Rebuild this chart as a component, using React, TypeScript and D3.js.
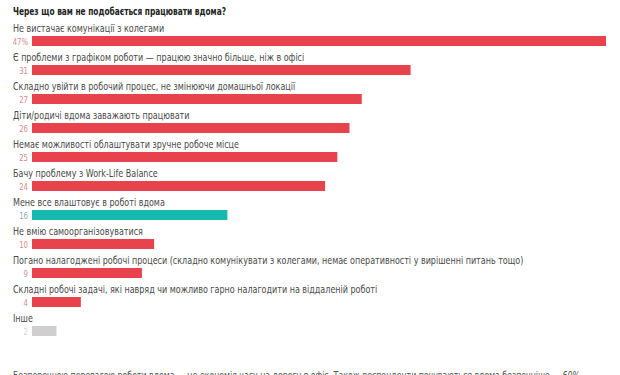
import React from "react";
import * as d3 from "d3";

const categories = [
  "Не вистачає комунікації з колегами",
  "Є проблеми з графіком роботи — працюю значно більше, ніж в офісі",
  "Складно увійти в робочий процес, не змінюючи домашньої локації",
  "Діти/родичі вдома заважають працювати",
  "Немає можливості облаштувати зручне робоче місце",
  "Бачу проблему з Work-Life Balance",
  "Мене все влаштовує в роботі вдома",
  "Не вмію самоорганізовуватися",
  "Погано налагоджені робочі процеси (складно комунікувати з колегами, немає оперативності у вирішенні питань тощо)",
  "Складні робочі задачі, які навряд чи можливо гарно налагодити на віддаленій роботі",
  "Інше",
];
const values = [47, 31, 27, 26, 25, 24, 16, 10, 9, 4, 2];
const valueLabels = ["47%", "31", "27", "26", "25", "24", "16", "10", "9", "4", "2"];
const kinds = ["neg", "neg", "neg", "neg", "neg", "neg", "pos", "neg", "neg", "neg", "other"];

const title = "Через що вам не подобається працювати вдома?";
const footnote =
  "Безперечною перевагою роботи вдома — це економія часу на дорогу в офіс. Також респонденти почуваються вдома безпечніше — 60%";

const barColor: Record<string, string> = { neg: "#e8434c", pos: "#17b8ad", other: "#cfcfcf" };
const valColor: Record<string, string> = { neg: "#d9898c", pos: "#7fb3b0", other: "#d4d4d4" };

export default function App() {
  const W = 620, H = 375;
  const x = d3.scaleLinear().domain([0, 47]).range([32, 606]);
  const y = d3.scaleBand<number>().domain(d3.range(values.length)).range([22, 22 + 29 * values.length]).paddingInner(0);
  const font = "'DejaVu Sans Condensed', sans-serif";
  const sx = 0.81;
  return (
    <svg width={W} height={H} style={{ position: "absolute", left: 0, top: 0, background: "#fff" }} fontFamily={font}>
      <g transform={`translate(13,15) scale(0.75,1)`}>
        <text x={0} y={0} fontSize={11} fontWeight="bold" fill="#222">{title}</text>
      </g>
      {values.map((v, i) => {
        const top = y(i)!;
        return (
          <g key={i}>
            <g transform={`translate(13,${top + 10}) scale(${sx},1)`}>
              <text x={0} y={0} fontSize={11} fill="#4a4a4a">{categories[i]}</text>
            </g>
            <rect x={x(0)} y={top + 14} width={x(v) - x(0)} height={10} fill={barColor[kinds[i]]} />
            <g transform={`translate(28,${top + 22.5}) scale(${sx},1)`}>
              <text x={0} y={0} fontSize={9.5} textAnchor="end" fill={valColor[kinds[i]]}>{valueLabels[i]}</text>
            </g>
          </g>
        );
      })}
      <g transform={`translate(13,379) scale(0.79,1)`}>
        <text x={0} y={0} fontSize={11} fill="#555">{footnote}</text>
      </g>
    </svg>
  );
}
